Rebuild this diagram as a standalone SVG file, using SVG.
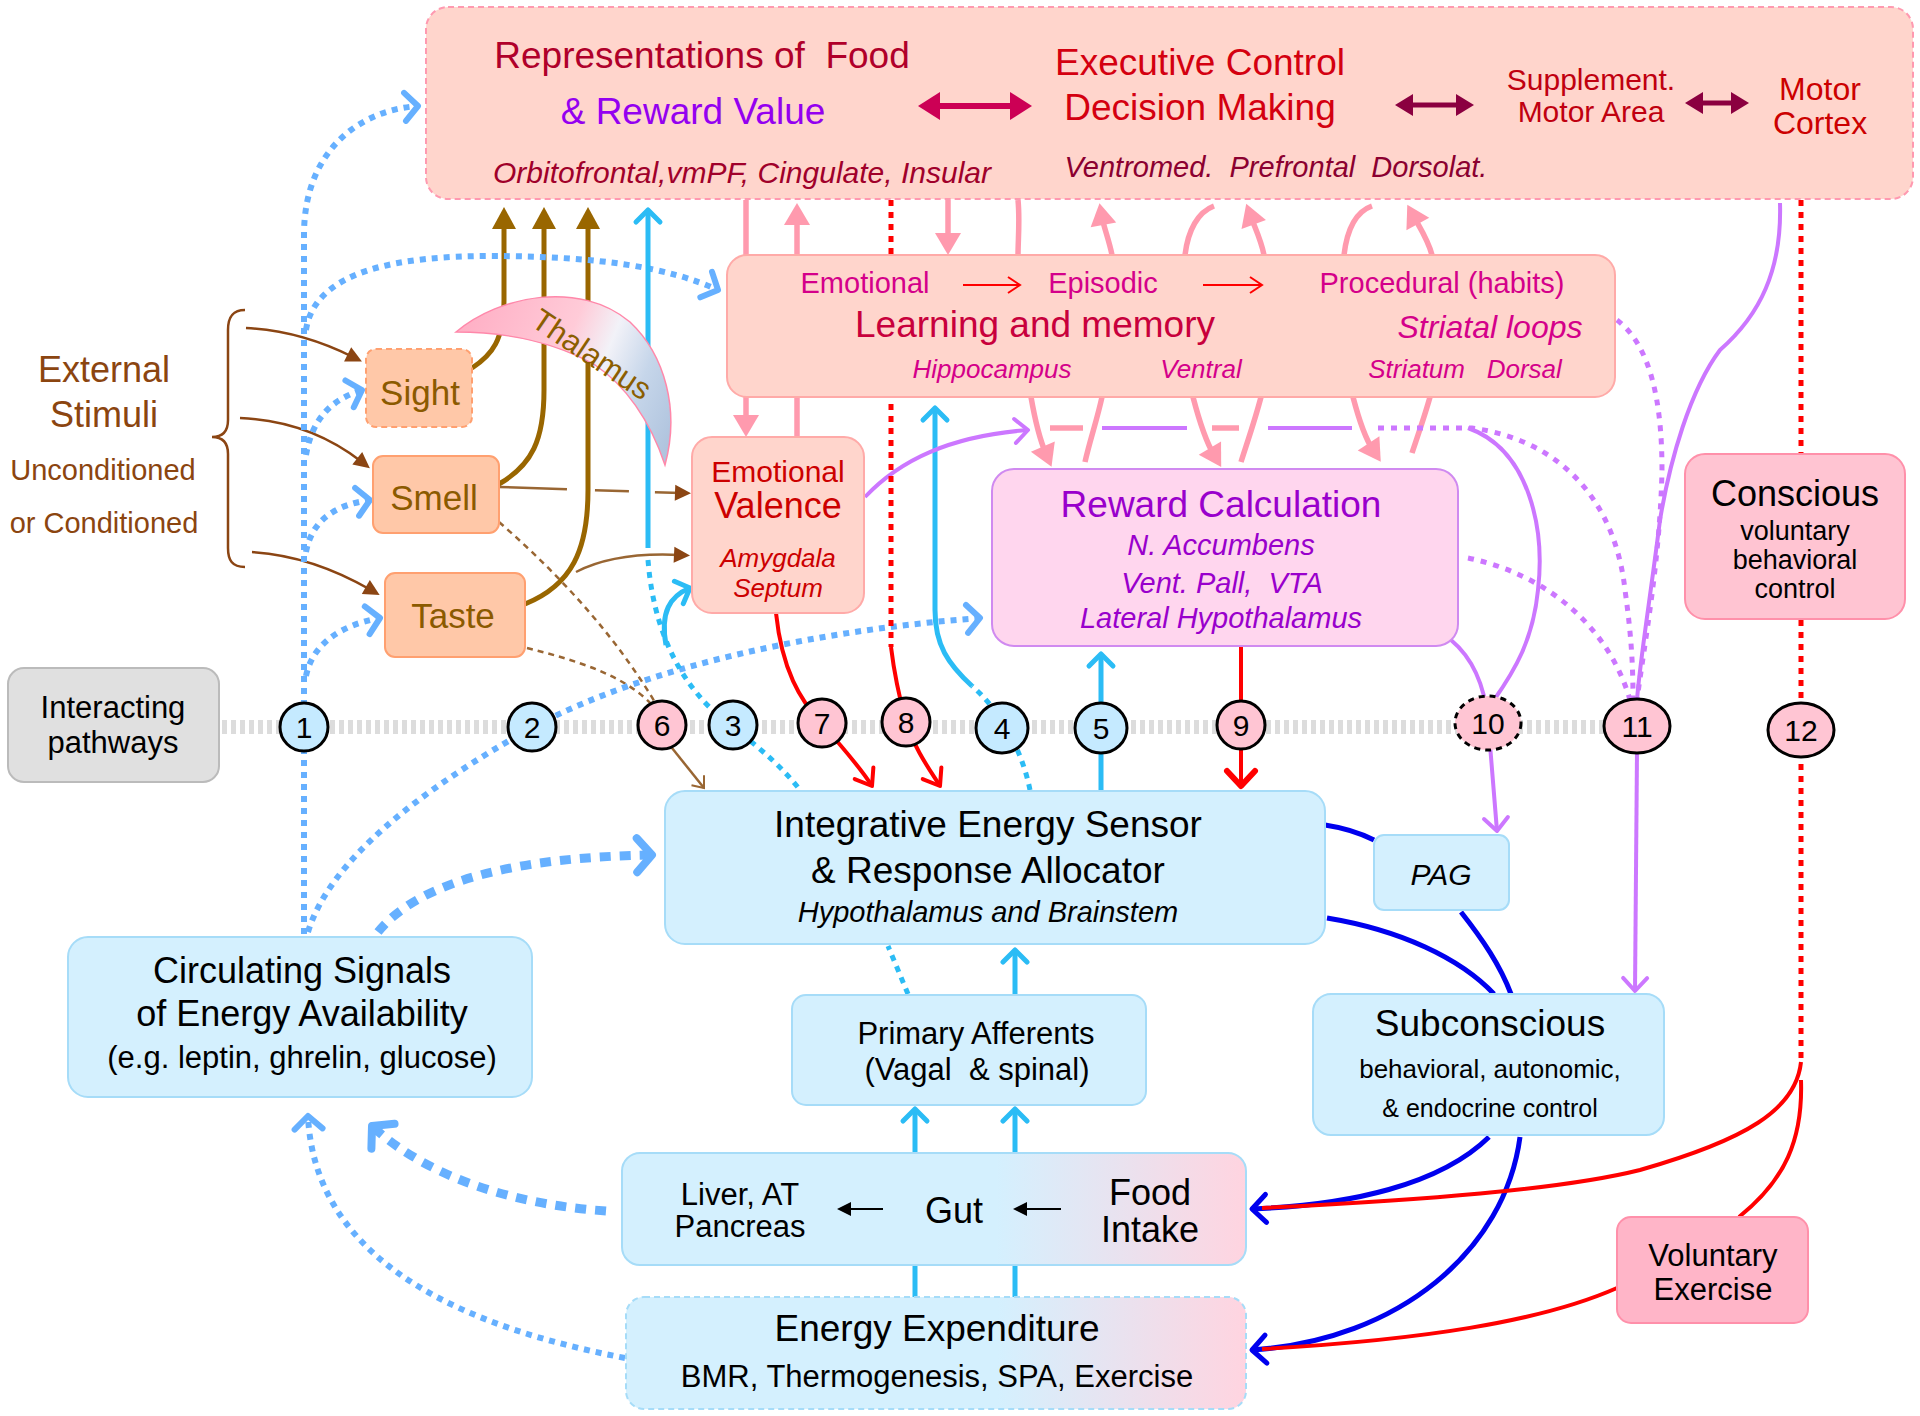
<svg xmlns="http://www.w3.org/2000/svg" width="1920" height="1416" viewBox="0 0 1920 1416">
<style>
text{font-family:"Liberation Sans",Arial,Helvetica,sans-serif}
.c{text-anchor:middle}
.i{font-style:italic}
.bp{fill:#ffd5cc;stroke:#ffaaa8;stroke-width:2}
.bb{fill:#d4f0fe;stroke:#a6dcf8;stroke-width:2}
.bs{fill:#ffc8a8;stroke:#ffa070;stroke-width:2}
.nb{fill:#c5eaff;stroke:#000;stroke-width:3}
.np{fill:#ffc5d3;stroke:#000;stroke-width:3}
.brown{fill:none;stroke:#996600;stroke-width:5}
.brt{fill:none;stroke:#996633;stroke-width:2.5}
.bld{fill:none;stroke:#66b0ff;stroke-width:6;stroke-dasharray:6 6}
.bldT{fill:none;stroke:#66b0ff;stroke-width:9;stroke-dasharray:11 9}
.cy{fill:none;stroke:#2bbcf5;stroke-width:5}
.cyd{fill:none;stroke:#2bbcf5;stroke-width:5;stroke-dasharray:6 6}
.pk{fill:none;stroke:#ff9aae;stroke-width:5.5}
.pu{fill:none;stroke:#cc77ff;stroke-width:4}
.pud{fill:none;stroke:#cc77ff;stroke-width:5;stroke-dasharray:6 7}
.rd{fill:none;stroke:#ff0000;stroke-width:4}
.rdd{fill:none;stroke:#ff0000;stroke-width:5;stroke-dasharray:6 6}
.dk{fill:none;stroke:#0000ee;stroke-width:5}
</style>
<defs>
<linearGradient id="gGut" x1="0" y1="0" x2="1" y2="0"><stop offset="0" stop-color="#d4f0fe"/><stop offset="0.6" stop-color="#d4f0fe"/><stop offset="1" stop-color="#ffd4e0"/></linearGradient>
<linearGradient id="gThal" gradientUnits="userSpaceOnUse" x1="456" y1="330" x2="678" y2="420"><stop offset="0" stop-color="#ffaec4"/><stop offset="0.45" stop-color="#ffcbd8"/><stop offset="0.62" stop-color="#f2f2f8"/><stop offset="0.8" stop-color="#c6d6ea"/><stop offset="1" stop-color="#b0c4de"/></linearGradient>
<marker id="fBrown" markerUnits="userSpaceOnUse" markerWidth="40" markerHeight="40" refX="0" refY="0" orient="auto" overflow="visible"><path d="M-8,-12 L14,0 L-8,12 Z" fill="#996600"/></marker>
<marker id="fBrownS" markerUnits="userSpaceOnUse" markerWidth="40" markerHeight="40" refX="0" refY="0" orient="auto" overflow="visible"><path d="M-6,-8 L10,0 L-6,8 Z" fill="#8b4513"/></marker>
<marker id="fPink" markerUnits="userSpaceOnUse" markerWidth="40" markerHeight="40" refX="0" refY="0" orient="auto" overflow="visible"><path d="M-8,-13 L14,0 L-8,13 Z" fill="#ff9aae"/></marker>
<marker id="fCrimson" markerUnits="userSpaceOnUse" markerWidth="40" markerHeight="40" refX="0" refY="0" orient="auto-start-reverse" overflow="visible"><path d="M-8,-14 L14,0 L-8,14 Z" fill="#cc0055"/></marker>
<marker id="fMaroon" markerUnits="userSpaceOnUse" markerWidth="40" markerHeight="40" refX="0" refY="0" orient="auto-start-reverse" overflow="visible"><path d="M-6,-11 L12,0 L-6,11 Z" fill="#8b0040"/></marker>
<marker id="fBlack" markerUnits="userSpaceOnUse" markerWidth="40" markerHeight="40" refX="0" refY="0" orient="auto" overflow="visible"><path d="M-4,-7 L10,0 L-4,7 Z" fill="#000"/></marker>
<marker id="vBlueDot" markerUnits="userSpaceOnUse" markerWidth="40" markerHeight="40" refX="0" refY="0" orient="auto" overflow="visible"><path d="M-13,-14 L0,0 L-13,14" fill="none" stroke="#66b0ff" stroke-width="6" stroke-linecap="round" stroke-linejoin="round"/></marker>
<marker id="vBlueDotB" markerUnits="userSpaceOnUse" markerWidth="40" markerHeight="40" refX="0" refY="0" orient="auto" overflow="visible"><path d="M-15,-17 L0,0 L-15,17" fill="none" stroke="#66b0ff" stroke-width="8" stroke-linecap="round" stroke-linejoin="round"/></marker>
<marker id="vCyan" markerUnits="userSpaceOnUse" markerWidth="40" markerHeight="40" refX="0" refY="0" orient="auto" overflow="visible"><path d="M-12,-12 L0,0 L-12,12" fill="none" stroke="#2bbcf5" stroke-width="5" stroke-linecap="round" stroke-linejoin="round"/></marker>
<marker id="vRed" markerUnits="userSpaceOnUse" markerWidth="40" markerHeight="40" refX="0" refY="0" orient="auto" overflow="visible"><path d="M-15,-11 L0,0 L-15,11" fill="none" stroke="#ff0000" stroke-width="4" stroke-linecap="round" stroke-linejoin="round"/></marker>
<marker id="vRedB" markerUnits="userSpaceOnUse" markerWidth="40" markerHeight="40" refX="0" refY="0" orient="auto" overflow="visible"><path d="M-15,-14 L0,0 L-15,14" fill="none" stroke="#ff0000" stroke-width="6" stroke-linecap="round" stroke-linejoin="round"/></marker>
<marker id="vRedThin" markerUnits="userSpaceOnUse" markerWidth="40" markerHeight="40" refX="0" refY="0" orient="auto" overflow="visible"><path d="M-12,-8 L0,0 L-12,8" fill="none" stroke="#ff0000" stroke-width="2"/></marker>
<marker id="vPurple" markerUnits="userSpaceOnUse" markerWidth="40" markerHeight="40" refX="0" refY="0" orient="auto" overflow="visible"><path d="M-13,-12 L0,0 L-13,12" fill="none" stroke="#cc77ff" stroke-width="4" stroke-linecap="round" stroke-linejoin="round"/></marker>
<marker id="vBlue" markerUnits="userSpaceOnUse" markerWidth="40" markerHeight="40" refX="0" refY="0" orient="auto" overflow="visible"><path d="M-14,-14 L0,0 L-14,14" fill="none" stroke="#0000ee" stroke-width="5" stroke-linecap="round" stroke-linejoin="round"/></marker>
<marker id="vBrownThin" markerUnits="userSpaceOnUse" markerWidth="40" markerHeight="40" refX="0" refY="0" orient="auto" overflow="visible"><path d="M-10,-8 L0,0 L-10,8" fill="none" stroke="#996633" stroke-width="2"/></marker>
</defs>
<rect width="1920" height="1416" fill="#fff"/>

<g id="connectors">
 <line x1="222" y1="727" x2="1608" y2="727" stroke="#dcdcdc" stroke-width="14" stroke-dasharray="5 4"/>
 <path d="M245 310 C232 310 228 318 228 330 L228 420 C228 432 222 437 212 437 C222 437 228 442 228 454 L228 548 C228 560 232 567 245 567" fill="none" stroke="#8b4513" stroke-width="2.5"/>
 <path d="M246 328 C290 330 325 343 353 357" fill="none" stroke="#8b4513" stroke-width="2.5" marker-end="url(#fBrownS)"/>
 <path d="M240 418 C290 420 330 437 362 462" fill="none" stroke="#8b4513" stroke-width="2.5" marker-end="url(#fBrownS)"/>
 <path d="M252 552 C300 555 340 572 371 590" fill="none" stroke="#8b4513" stroke-width="2.5" marker-end="url(#fBrownS)"/>
 <path class="brown" d="M472 368 C492 355 504 340 504 300 L504 221" marker-end="url(#fBrown)"/>
 <path class="brown" d="M499 484 C532 465 544 440 544 390 L544 221" marker-end="url(#fBrown)"/>
 <path class="brown" d="M525 604 C572 585 588 550 588 490 L588 221" marker-end="url(#fBrown)"/>
 <path class="brt" d="M499 487 L681 493" stroke-dasharray="68 28 34 26 100" marker-end="url(#fBrownS)"/>
 <path class="brt" d="M576 572 C605 557 640 553 680 555" marker-end="url(#fBrownS)"/>
 <path class="brt" d="M499 522 Q600 610 656 704" stroke-dasharray="6 5" stroke-width="2"/>
 <path class="brt" d="M527 648 C575 660 625 675 653 706" stroke-dasharray="6 5" stroke-width="2"/>
 <path class="brt" d="M672 748 L704 788" stroke-width="2" marker-end="url(#vBrownThin)"/>
 <path class="bld" d="M304 934 L304 235 C304 150 360 110 418 106" marker-end="url(#vBlueDot)"/>
 <path class="bld" d="M306 330 C315 270 400 256 490 256 C600 256 670 268 718 290" marker-end="url(#vBlueDot)"/>
 <path class="bld" d="M306 455 C312 420 330 400 362 390" stroke-width="5" marker-end="url(#vBlueDot)"/>
 <path class="bld" d="M306 552 C312 520 335 505 370 500" stroke-width="5" marker-end="url(#vBlueDot)"/>
 <path class="bld" d="M306 676 C312 645 340 625 380 618" stroke-width="5" marker-end="url(#vBlueDot)"/>
 <path class="bld" d="M308 932 C330 860 420 790 533 727 C650 665 820 630 980 618" stroke-width="7" stroke-dasharray="7 7" marker-end="url(#vBlueDot)"/>
 <path class="bldT" d="M378 932 C420 880 520 857 652 855" marker-end="url(#vBlueDotB)"/>
 <path class="bldT" d="M606 1211 C520 1205 430 1180 372 1126" marker-end="url(#vBlueDotB)"/>
 <path class="bld" d="M625 1358 C480 1330 315 1270 308 1116" marker-end="url(#vBlueDot)"/>
 <path class="cy" d="M648 548 L648 210" marker-end="url(#vCyan)"/>
 <path class="cyd" d="M648 560 C655 650 695 700 733 727 C760 748 785 770 800 790"/>
 <path class="cy" d="M666 645 C660 612 670 596 690 588" marker-end="url(#vCyan)"/>
 <path class="cyd" d="M1030 790 C1022 750 1000 710 972 686"/>
 <path class="cy" d="M972 686 C948 664 935 645 935 610 L935 408" marker-end="url(#vCyan)"/>
 <path class="cy" d="M1101 790 L1101 654" marker-end="url(#vCyan)"/>
 <path class="cy" d="M1015 995 L1015 950" marker-end="url(#vCyan)"/>
 <path class="cyd" d="M908 994 L888 946"/>
 <path class="cy" d="M915 1153 L915 1109" marker-end="url(#vCyan)"/>
 <path class="cy" d="M1015 1153 L1015 1109" marker-end="url(#vCyan)"/>
 <path class="cy" d="M915 1297 L915 1265"/>
 <path class="cy" d="M1015 1297 L1015 1265"/>
 <path class="pk" d="M746 200 L746 423" marker-end="url(#fPink)"/>
 <path class="pk" d="M797 436 L797 217" marker-end="url(#fPink)"/>
 <path class="pk" d="M948 200 L948 241" marker-end="url(#fPink)"/>
 <path class="pk" d="M1018 200 C1020 220 1018 240 1018 256"/>
 <path class="pk" d="M1112 255 C1109 240 1104 228 1102 217" marker-end="url(#fPink)"/>
 <path class="pk" d="M1185 255 C1188 230 1198 212 1214 206"/>
 <path class="pk" d="M1264 255 C1261 240 1255 228 1251 217" marker-end="url(#fPink)"/>
 <path class="pk" d="M1344 255 C1347 230 1355 212 1372 206"/>
 <path class="pk" d="M1432 255 C1428 240 1420 228 1414 217" marker-end="url(#fPink)"/>
 <path class="pk" d="M1031 397 C1035 420 1040 440 1046 454" marker-end="url(#fPink)"/>
 <path class="pk" d="M1085 462 C1090 440 1097 420 1102 397"/>
 <path class="pk" d="M1193 397 C1199 420 1205 440 1214 455" marker-end="url(#fPink)"/>
 <path class="pk" d="M1241 462 C1248 440 1255 420 1261 397"/>
 <path class="pk" d="M1353 397 C1359 420 1365 438 1373 450" marker-end="url(#fPink)"/>
 <path class="pk" d="M1412 453 C1418 435 1425 415 1430 397"/>
 <path class="pk" d="M1050 428 L1083 428"/>
 <path class="pk" d="M1212 428 L1239 428"/>
 <path class="pu" d="M865 497 C900 460 950 436 1028 430" marker-end="url(#vPurple)"/>
 <path class="pu" d="M1102 428 L1187 428" stroke-width="5"/>
 <path class="pu" d="M1268 428 L1352 428" stroke-width="5"/>
 <path class="pud" d="M1378 428 L1472 428 C1560 440 1615 500 1625 590 C1632 640 1633 670 1633 700"/>
 <path class="pu" d="M1468 428 C1530 450 1545 530 1538 590 C1533 640 1515 670 1494 700" stroke-width="3.5"/>
 <path class="pud" d="M1468 558 C1550 575 1610 630 1630 700"/>
 <path class="pud" d="M1617 320 C1650 345 1662 400 1662 470 C1660 560 1645 640 1637 700"/>
 <path class="pu" d="M1780 203 C1782 270 1760 315 1720 350 C1690 390 1670 460 1660 520 C1650 600 1640 660 1637 700" stroke-width="3.5"/>
 <path class="pu" d="M1637 752 L1635 991" marker-end="url(#vPurple)"/>
 <path class="pu" d="M1451 640 C1475 660 1485 690 1488 720 L1497 831" stroke-width="6" marker-end="url(#vPurple)"/>
 <path class="rd" d="M776 613 C782 670 800 700 822 724 C845 750 862 770 872 786" marker-end="url(#vRed)"/>
 <path class="rdd" d="M891 200 L891 647"/>
 <path class="rd" d="M891 647 C895 680 900 700 906 722 C915 750 930 770 940 786" marker-end="url(#vRed)"/>
 <path class="rd" d="M1241 646 L1241 786" stroke-width="6" marker-end="url(#vRedB)"/>
 <path class="rdd" d="M1801 200 L1801 1062"/>
 <path class="dk" d="M1325 825 C1345 828 1360 833 1374 840"/>
 <path class="dk" d="M1327 918 C1400 930 1460 958 1494 994"/>
 <path class="dk" d="M1461 912 C1483 940 1500 965 1511 994"/>
 <path class="dk" d="M1489 1137 C1440 1185 1350 1205 1252 1209" marker-end="url(#vBlue)"/>
 <path class="dk" d="M1520 1137 C1505 1250 1400 1340 1252 1350" marker-end="url(#vBlue)"/>
 <path class="rd" stroke-width="5" d="M1801 1062 C1796 1110 1745 1140 1640 1170 C1560 1190 1420 1200 1262 1208"/>
 <path class="rd" stroke-width="5" d="M1801 1080 C1803 1140 1785 1180 1739 1217"/>
 <path class="rd" stroke-width="5" d="M1617 1288 C1540 1322 1420 1340 1262 1349"/>
</g>

<g id="node-top">
 <rect x="426" y="7" width="1487" height="192" rx="22" fill="#ffd5cc" stroke="#ff99b0" stroke-width="2" stroke-dasharray="6 4"/>
 <text x="702" y="68" class="c" font-size="37" fill="#b0002a" xml:space="preserve">Representations of  Food</text>
 <text x="693" y="124" class="c" font-size="37" fill="#9400f0">&amp; Reward Value</text>
 <text x="742" y="183" class="c i" font-size="30" fill="#a0002a">Orbitofrontal,vmPF, Cingulate, Insular</text>
 <line x1="932" y1="106" x2="1018" y2="106" stroke="#cc0055" stroke-width="6" marker-start="url(#fCrimson)" marker-end="url(#fCrimson)"/>
 <text x="1200" y="75" class="c" font-size="37" fill="#d40010">Executive Control</text>
 <text x="1200" y="120" class="c" font-size="37" fill="#d40010">Decision Making</text>
 <text x="1276" y="177" class="c i" font-size="29" fill="#8b0030" xml:space="preserve">Ventromed.  Prefrontal  Dorsolat.</text>
 <line x1="1407" y1="105" x2="1462" y2="105" stroke="#8b0040" stroke-width="5" marker-start="url(#fMaroon)" marker-end="url(#fMaroon)"/>
 <text x="1591" y="90" class="c" font-size="30" fill="#c00010">Supplement.</text>
 <text x="1591" y="122" class="c" font-size="30" fill="#c00010">Motor Area</text>
 <line x1="1697" y1="103" x2="1737" y2="103" stroke="#8b0040" stroke-width="5" marker-start="url(#fMaroon)" marker-end="url(#fMaroon)"/>
 <text x="1820" y="100" class="c" font-size="32" fill="#cc0000">Motor</text>
 <text x="1820" y="134" class="c" font-size="32" fill="#cc0000">Cortex</text>
</g>

<g id="node-learning">
 <rect class="bp" x="727" y="255" width="888" height="142" rx="20"/>
 <text x="865" y="293" class="c" font-size="29" fill="#d4008a">Emotional</text>
 <line x1="963" y1="285" x2="1020" y2="285" stroke="#ff0000" stroke-width="2" marker-end="url(#vRedThin)"/>
 <text x="1103" y="293" class="c" font-size="29" fill="#d4008a">Episodic</text>
 <line x1="1203" y1="285" x2="1262" y2="285" stroke="#ff0000" stroke-width="2" marker-end="url(#vRedThin)"/>
 <text x="1442" y="293" class="c" font-size="29" fill="#d4008a">Procedural (habits)</text>
 <text x="1035" y="337" class="c" font-size="37" fill="#c8003c">Learning and memory</text>
 <text x="1490" y="338" class="c i" font-size="32" fill="#d4008a">Striatal loops</text>
 <text x="992" y="378" class="c i" font-size="26" fill="#d4008a">Hippocampus</text>
 <text x="1201" y="378" class="c i" font-size="26" fill="#d4008a">Ventral</text>
 <text x="1465" y="378" class="c i" font-size="26" fill="#d4008a" xml:space="preserve">Striatum   Dorsal</text>
</g>

<g id="node-valence">
 <rect class="bp" x="692" y="437" width="172" height="176" rx="20"/>
 <text x="778" y="482" class="c" font-size="30" fill="#cc0000">Emotional</text>
 <text x="778" y="518" class="c" font-size="36" fill="#cc0000">Valence</text>
 <text x="778" y="567" class="c i" font-size="26" fill="#cc0000">Amygdala</text>
 <text x="778" y="597" class="c i" font-size="26" fill="#cc0000">Septum</text>
</g>

<g id="node-reward">
 <rect x="992" y="469" width="466" height="177" rx="22" fill="#ffd6ee" stroke="#d08af0" stroke-width="2"/>
 <text x="1221" y="517" class="c" font-size="37" fill="#9900cc">Reward Calculation</text>
 <text x="1221" y="555" class="c i" font-size="29" fill="#9900cc">N. Accumbens</text>
 <text x="1222" y="593" class="c i" font-size="29" fill="#9900cc" xml:space="preserve">Vent. Pall,  VTA</text>
 <text x="1221" y="628" class="c i" font-size="29" fill="#9900cc">Lateral Hypothalamus</text>
</g>

<g id="node-conscious">
 <rect x="1685" y="454" width="220" height="165" rx="20" fill="#ffc4d2" stroke="#ff90aa" stroke-width="2"/>
 <text x="1795" y="506" class="c" font-size="36">Conscious</text>
 <text x="1795" y="540" class="c" font-size="27">voluntary</text>
 <text x="1795" y="569" class="c" font-size="27">behavioral</text>
 <text x="1795" y="598" class="c" font-size="27">control</text>
</g>

<g id="node-external">
 <text x="104" y="382" class="c" font-size="36" fill="#8b4510">External</text>
 <text x="104" y="427" class="c" font-size="36" fill="#8b4510">Stimuli</text>
 <text x="103" y="480" class="c" font-size="29" fill="#8b4510">Unconditioned</text>
 <text x="104" y="533" class="c" font-size="29" fill="#8b4510">or Conditioned</text>
</g>

<g id="node-sight">
 <rect class="bs" x="366" y="349" width="106" height="78" rx="10" stroke-dasharray="6 4"/>
 <text x="420" y="405" class="c" font-size="35" fill="#8b5a00">Sight</text>
</g>
<g id="node-smell">
 <rect class="bs" x="373" y="456" width="126" height="77" rx="10"/>
 <text x="434" y="510" class="c" font-size="35" fill="#8b5a00">Smell</text>
</g>
<g id="node-taste">
 <rect class="bs" x="385" y="573" width="140" height="84" rx="10"/>
 <text x="453" y="628" class="c" font-size="35" fill="#8b5a00">Taste</text>
</g>

<g id="node-thalamus">
 <path d="M456 332 C500 295 580 280 630 322 C665 355 680 410 665 465 C650 420 625 385 595 365 C555 342 505 332 456 332 Z" fill="url(#gThal)" stroke="#ff88aa" stroke-width="1.5"/>
 <text x="592" y="365" class="c" font-size="31" fill="#8b5e00" transform="rotate(34 592 354)">Thalamus</text>
</g>

<g id="node-interacting">
 <rect x="8" y="668" width="211" height="114" rx="16" fill="#e0e0e0" stroke="#bbbbbb" stroke-width="2"/>
 <text x="113" y="718" class="c" font-size="31">Interacting</text>
 <text x="113" y="753" class="c" font-size="31">pathways</text>
</g>

<g id="p1"><ellipse class="nb" cx="304" cy="727" rx="24" ry="24"/><text x="304" y="738" class="c" font-size="30">1</text></g>
<g id="p2"><ellipse class="nb" cx="532" cy="727" rx="24" ry="24"/><text x="532" y="738" class="c" font-size="30">2</text></g>
<g id="p6"><ellipse class="np" cx="662" cy="725" rx="24" ry="24"/><text x="662" y="736" class="c" font-size="30">6</text></g>
<g id="p3"><ellipse class="nb" cx="733" cy="725" rx="24" ry="24"/><text x="733" y="736" class="c" font-size="30">3</text></g>
<g id="p7"><ellipse class="np" cx="822" cy="723" rx="24" ry="24"/><text x="822" y="734" class="c" font-size="30">7</text></g>
<g id="p8"><ellipse class="np" cx="906" cy="722" rx="24" ry="24"/><text x="906" y="733" class="c" font-size="30">8</text></g>
<g id="p4"><ellipse class="nb" cx="1002" cy="728" rx="26" ry="25"/><text x="1002" y="739" class="c" font-size="30">4</text></g>
<g id="p5"><ellipse class="nb" cx="1101" cy="728" rx="26" ry="25"/><text x="1101" y="739" class="c" font-size="30">5</text></g>
<g id="p9"><ellipse class="np" cx="1241" cy="725" rx="24" ry="24"/><text x="1241" y="736" class="c" font-size="30">9</text></g>
<g id="p10"><ellipse class="np" cx="1488" cy="723" rx="33" ry="27" stroke-dasharray="6 5"/><text x="1488" y="734" class="c" font-size="30">10</text></g>
<g id="p11"><ellipse class="np" cx="1637" cy="726" rx="33" ry="27"/><text x="1637" y="737" class="c" font-size="30">11</text></g>
<g id="p12"><ellipse class="np" cx="1801" cy="730" rx="33" ry="27"/><text x="1801" y="741" class="c" font-size="30">12</text></g>

<g id="node-integrative">
 <rect class="bb" x="665" y="791" width="660" height="153" rx="20"/>
 <text x="988" y="837" class="c" font-size="37">Integrative Energy Sensor</text>
 <text x="988" y="883" class="c" font-size="37">&amp; Response Allocator</text>
 <text x="988" y="922" class="c i" font-size="29">Hypothalamus and Brainstem</text>
</g>

<g id="node-pag">
 <rect class="bb" x="1374" y="835" width="135" height="75" rx="10"/>
 <text x="1441" y="885" class="c i" font-size="30">PAG</text>
</g>

<g id="node-subconscious">
 <rect class="bb" x="1313" y="994" width="351" height="141" rx="18"/>
 <text x="1490" y="1036" class="c" font-size="37">Subconscious</text>
 <text x="1490" y="1078" class="c" font-size="26">behavioral, autonomic,</text>
 <text x="1490" y="1117" class="c" font-size="25">&amp; endocrine control</text>
</g>

<g id="node-voluntary">
 <rect x="1617" y="1217" width="191" height="106" rx="14" fill="#ffb5c8" stroke="#ff90aa" stroke-width="2"/>
 <text x="1713" y="1266" class="c" font-size="31">Voluntary</text>
 <text x="1713" y="1300" class="c" font-size="31">Exercise</text>
</g>

<g id="node-afferents">
 <rect class="bb" x="792" y="995" width="354" height="110" rx="14"/>
 <text x="976" y="1044" class="c" font-size="31">Primary Afferents</text>
 <text x="977" y="1080" class="c" font-size="31" xml:space="preserve">(Vagal  &amp; spinal)</text>
</g>

<g id="node-gut">
 <rect x="622" y="1153" width="624" height="112" rx="18" fill="url(#gGut)" stroke="#a6dcf8" stroke-width="2"/>
 <text x="740" y="1205" class="c" font-size="31">Liver, AT</text>
 <text x="740" y="1237" class="c" font-size="31">Pancreas</text>
 <line x1="883" y1="1209" x2="847" y2="1209" stroke="#000" stroke-width="2" marker-end="url(#fBlack)"/>
 <text x="954" y="1223" class="c" font-size="36">Gut</text>
 <line x1="1061" y1="1209" x2="1023" y2="1209" stroke="#000" stroke-width="2" marker-end="url(#fBlack)"/>
 <text x="1150" y="1205" class="c" font-size="36">Food</text>
 <text x="1150" y="1242" class="c" font-size="36">Intake</text>
</g>

<g id="node-expenditure">
 <rect x="626" y="1297" width="620" height="112" rx="18" fill="url(#gGut)" stroke="#a6dcf8" stroke-width="2" stroke-dasharray="6 4"/>
 <text x="937" y="1341" class="c" font-size="37">Energy Expenditure</text>
 <text x="937" y="1387" class="c" font-size="31">BMR, Thermogenesis, SPA, Exercise</text>
</g>

<g id="node-circulating">
 <rect class="bb" x="68" y="937" width="464" height="160" rx="20"/>
 <text x="302" y="983" class="c" font-size="36">Circulating Signals</text>
 <text x="302" y="1026" class="c" font-size="36">of Energy Availability</text>
 <text x="302" y="1068" class="c" font-size="31">(e.g. leptin, ghrelin, glucose)</text>
</g>
</svg>
